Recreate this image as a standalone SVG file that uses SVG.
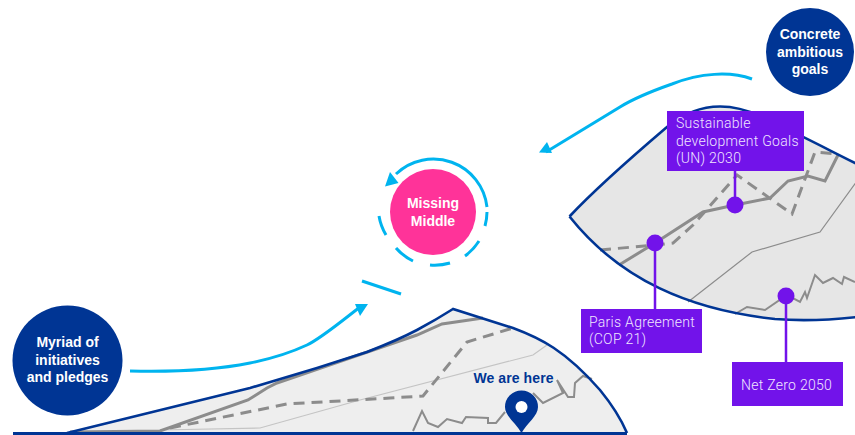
<svg xmlns="http://www.w3.org/2000/svg" width="855" height="435" viewBox="0 0 855 435">
<style>
.hub{font-family:"Liberation Sans",Arial,sans-serif;font-weight:700;font-size:14px;fill:#fff;text-anchor:middle}
.lab{font-family:Roboto,"Liberation Sans",sans-serif;font-weight:300;font-size:14px;letter-spacing:.28px;fill:#f1e6ff}
.cy{fill:none;stroke:#00b4ef;stroke-width:3}
.edge{fill:none;stroke:#003594;stroke-width:2.600}
.thick{fill:none;stroke:#8c8c8c;stroke-width:3}
.dash{fill:none;stroke:#8c8c8c;stroke-width:3;stroke-dasharray:11 7}
.thin{fill:none;stroke:#8c8c8c;stroke-width:1.2}
.jag{fill:none;stroke:#8c8c8c;stroke-width:2}
.stem{stroke:#7213ea;stroke-width:2.500}
.head{fill:#00b4ef}
</style>
<g id="sector-right">
<path d="M569.500 216.500C600 184 640 150 667 127C695 104 725 100 760 116C790 130 825 148 857 164V317C830 320 800 321 775 319C690 310 620 280 569.500 216.500Z" fill="#e6e6e6"/>
<path class="thin" d="M688 302L752 252L820 232L857 181"/>
<path class="jag" d="M735 314L747 307L765 310L787 295L800 302L805 292L807 298L815 275L823 283L833 278L842 284L844 277L855 282"/>
<path class="dash" d="M600 250L655 245L673 243L693 225L737 175L792 214L815 152L838 154"/>
<path class="thick" d="M619 265L655 243L703 212L735 205L770 198L788 181L808 176L825 181L838 155"/>
<path class="edge" d="M569.500 216.500C600 184 640 150 667 127C695 104 725 100 760 116C790 130 825 148 857 164M569.500 216.500C620 280 690 310 775 319C800 321 830 320 857 317"/>
</g>
<g id="hill-left">
<path d="M67 433L250 388L317 368L367 352C385 345 400 339 417 330C430 323 442 316 453 309L513 328C540 338 565 350 600 390Q618 412 627 433Z" fill="#eeeeee"/>
<path d="M160 430L260 428L360 400L533 355L547 345" fill="none" stroke="#c4c4c4" stroke-width="1.200"/>
<path class="jag" d="M413 431L422 411L428 423L438 427L447 419L462 423L466 417L488 418L488 423L496 423L505 412M533 393L543 403L563 393L557 380L568 397L574 397L575 383L583 376L592 379"/>
<path class="dash" d="M170 428L287 404L390 398L423 396L467 342L513 328"/>
<path class="thick" d="M70 432L160 431L248 400L267 388L277 383L417 335L442 324L483 318"/>
<path class="edge" d="M67 433L250 388L317 368L367 352C385 345 400 339 417 330C430 323 442 316 453 309L513 328C540 338 565 350 600 390Q618 412 627 433"/>
<path d="M13 433.500H627" fill="none" stroke="#003594" stroke-width="3"/>
</g>
<g id="connectors">
<path class="cy" d="M752 79C730 71 700 73 672 84C655 90 636 97 620 107L546 152"/>
<path d="M539 152.500L552 153L547 142Z" class="head"/>
<path class="cy" d="M130 371C170 372 215 370 250 363C272 358.600 292 352 307 345C320 339 338 324 360 307"/>
<path d="M355 304L368 304L360 316Z" class="head"/>
<path class="cy" d="M362 281L401 294"/>
<path class="cy" d="M487 207A54 54 0 0 0 396 174"/>
<path d="M385 186.500L390 172L398.500 183Z" class="head"/>
<path class="cy" d="M487 212A54 54 0 0 1 485 226M479 241A54 54 0 0 1 465 256M450 263A54 54 0 0 1 430 265M413 261A54 54 0 0 1 396 248M386 235A54 54 0 0 1 379 216"/>
<path class="stem" d="M735 171V205M655 243V309M786 296V362"/>
</g>
<g id="node-myriad"><circle cx="67.500" cy="360.500" r="55" fill="#003594"/><text class="hub" x="67.500" y="347">Myriad of</text><text class="hub" x="67.500" y="364.500">initiatives</text><text class="hub" x="67.500" y="382">and pledges</text></g>
<g id="node-concrete"><circle cx="810" cy="52" r="44" fill="#003594"/><text class="hub" x="810" y="39">Concrete</text><text class="hub" x="810" y="57">ambitious</text><text class="hub" x="810" y="74">goals</text></g>
<g id="node-missing"><circle cx="433" cy="212" r="43" fill="#ff3399"/><text class="hub" x="433" y="208">Missing</text><text class="hub" x="433" y="226">Middle</text></g>
<g id="node-here">
<text x="513.500" y="383" font-family="'Liberation Sans',Arial,sans-serif" font-weight="700" font-size="14" letter-spacing=".1" fill="#003594" text-anchor="middle">We are here</text>
<path d="M521.500 433C516 423 505 416 505 407A16.500 16.500 0 0 1 538 407C538 416 527 423 521.500 433Z" fill="#003594"/><circle cx="521.500" cy="407" r="6" fill="#fff"/>
</g>
<g id="node-sdg"><rect x="667" y="111" width="137" height="60" fill="#7213ea"/><text class="lab" x="676" y="128">Sustainable</text><text class="lab" x="676" y="146">development Goals</text><text class="lab" x="676" y="163">(UN) 2030</text><circle cx="735" cy="205" r="8.500" fill="#7213ea"/></g>
<g id="node-paris"><rect x="581" y="309" width="121" height="44" fill="#7213ea"/><text class="lab" x="589" y="327">Paris Agreement</text><text class="lab" x="589" y="344">(COP 21)</text><circle cx="655" cy="243" r="8.500" fill="#7213ea"/></g>
<g id="node-netzero"><rect x="732" y="362" width="111" height="44" fill="#7213ea"/><text class="lab" x="741" y="390">Net Zero 2050</text><circle cx="786" cy="296" r="8.500" fill="#7213ea"/></g>
</svg>
